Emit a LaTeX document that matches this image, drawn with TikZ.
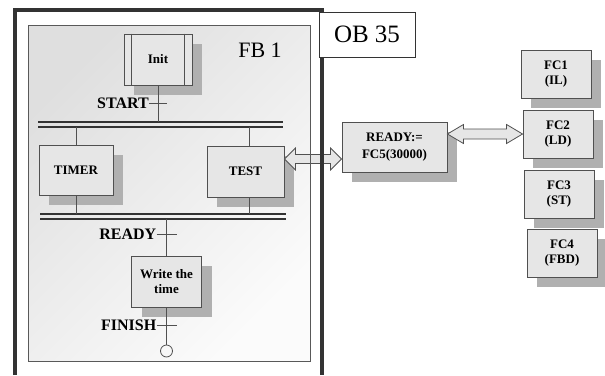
\documentclass[tikz,border=0pt]{standalone}
\usepackage{fontspec}
\setmainfont{Liberation Serif}
\usetikzlibrary{positioning,calc,shadows}

\definecolor{framegray}{HTML}{333333}
\definecolor{boxfill}{HTML}{E6E6E6}
\definecolor{shadowgray}{HTML}{B0B0B0}
\definecolor{linegray}{HTML}{505050}

\tikzset{
  stepbox/.style={draw=linegray, fill=boxfill, line width=0.9pt, align=center, inner sep=2pt,
    font=\fontsize{13}{15}\selectfont\bfseries,
    drop shadow={shadow xshift=10pt, shadow yshift=-10pt, fill=shadowgray, opacity=1}},
  link/.style={draw=linegray, line width=0.8pt},
  bar/.style={draw=framegray, line width=2pt},
  translabel/.style={anchor=east, inner sep=0pt, font=\fontsize{16}{18}\selectfont\bfseries},
  blockarrow/.style={draw=linegray, fill=boxfill, line width=0.8pt, line join=miter},
}

\begin{document}
\begin{tikzpicture}[x=1pt, y=-1pt]
  \useasboundingbox (0,0) rectangle (605,375);

  % FB 1 panel
  \shade[top color=gray!25, bottom color=gray!3, shading angle=45] (28,25) rectangle (310,361);
  \node (fbname) at (260,50) {\fontsize{22}{24}\selectfont FB 1};

  % Parallel bars
  \draw[bar] (38,122) -- (283,122);
  \draw[bar] (38,127) -- (283,127);
  \draw[bar] (40,214) -- (286,214);
  \draw[bar] (40,219) -- (286,219);

  % Steps
  \node[stepbox, minimum width=68pt, minimum height=51pt] (init) at (158,59.5) {Init};
  \draw[link] ($(init.north west)+(8,0)$) -- ($(init.south west)+(8,0)$);
  \draw[link] ($(init.north east)+(-8,0)$) -- ($(init.south east)+(-8,0)$);
  \node[stepbox, minimum width=74pt, minimum height=50pt] (timer) at (76,170) {TIMER};
  \node[stepbox, minimum width=77pt, minimum height=51pt] (test) at (245.5,171.5) {TEST};
  \node[stepbox, minimum width=70pt, minimum height=51pt] (write) at (166.5,281.5) {Write the\\time};
  \node[circle, draw=linegray, line width=0.8pt, minimum size=12pt, inner sep=0pt] (stop) at (166.5,351) {};

  % Transitions
  \draw[link] (init.south) -- (init.south |- 0,122);
  \coordinate (tstart) at (init.south |- 0,103);
  \draw[link] ([xshift=-9pt]tstart) -- ([xshift=9pt]tstart);
  \node[translabel] (lstart) at ([xshift=-9pt]tstart) {START};

  \draw[link] (timer.north |- 0,127) -- (timer.north);
  \draw[link] (timer.south) -- (timer.south |- 0,214);
  \draw[link] ([xshift=4pt]test.north |- 0,127) -- ([xshift=4pt]test.north);
  \draw[link] ([xshift=4pt]test.south) -- ([xshift=4pt]test.south |- 0,214);

  \draw[link] (write.north |- 0,219) -- (write.north);
  \coordinate (tready) at (write.north |- 0,234);
  \draw[link] ([xshift=-10pt]tready) -- ([xshift=10pt]tready);
  \node[translabel] (lready) at ([xshift=-10pt]tready) {READY};

  \draw[link] (write.south) -- (stop.north);
  \coordinate (tfinish) at (write.south |- 0,325);
  \draw[link] ([xshift=-10pt]tfinish) -- ([xshift=10pt]tfinish);
  \node[translabel] (lfinish) at ([xshift=-10pt]tfinish) {FINISH};

  % Call box
  \node[stepbox, minimum width=105pt, minimum height=50pt, font=\fontsize{13}{17}\selectfont\bfseries]
    (fcfive) at (394.5,147) {READY:=\\FC5(30000)};

  % Arrow TEST <-> call
  \coordinate (aone) at (test.east |- 0,159);
  \coordinate (bone) at (fcfive.west |- aone);
  \draw[blockarrow] (aone) -- ++(11,-11) -- ++(0,6.5) -- ($(bone)+(-11,-4.5)$) -- ++(0,-6.5)
    -- (bone) -- ++(-11,11) -- ++(0,-6.5) -- ($(aone)+(11,4.5)$) -- ++(0,6.5) -- cycle;

  % Panel border and OB 35 frame
  \draw[draw=gray!70!black, line width=0.8pt] (28,25) rectangle (310,361);
  \draw[framegray, line width=4pt] (15,375) -- (15,10) -- (322,10) -- (322,375);
  \node[draw=framegray, fill=white, line width=0.8pt, minimum width=96pt, minimum height=45pt]
    (obname) at (367,34.5) {\fontsize{25}{27}\selectfont OB 35};

  % Functions
  \node[stepbox, minimum width=70pt, minimum height=48pt] (fcone) at (556,74) {FC1\\(IL)};
  \node[stepbox, minimum width=70pt, minimum height=48pt] (fctwo) at (558,134) {FC2\\(LD)};
  \node[stepbox, minimum width=70pt, minimum height=48pt] (fcthree) at (559,194) {FC3\\(ST)};
  \node[stepbox, minimum width=70pt, minimum height=48pt] (fcfour) at (562,253) {FC4\\(FBD)};

  % Arrow call <-> FC2
  \coordinate (atwo) at (fcfive.east |- fctwo.west);
  \draw[blockarrow] (atwo) -- ++(16,-9.5) -- ++(0,4.5) -- ($(fctwo.west)+(-16,-5)$) -- ++(0,-4.5)
    -- (fctwo.west) -- ++(-16,9.5) -- ++(0,-4.5) -- ($(atwo)+(16,5)$) -- ++(0,4.5) -- cycle;
\end{tikzpicture}
\end{document}
